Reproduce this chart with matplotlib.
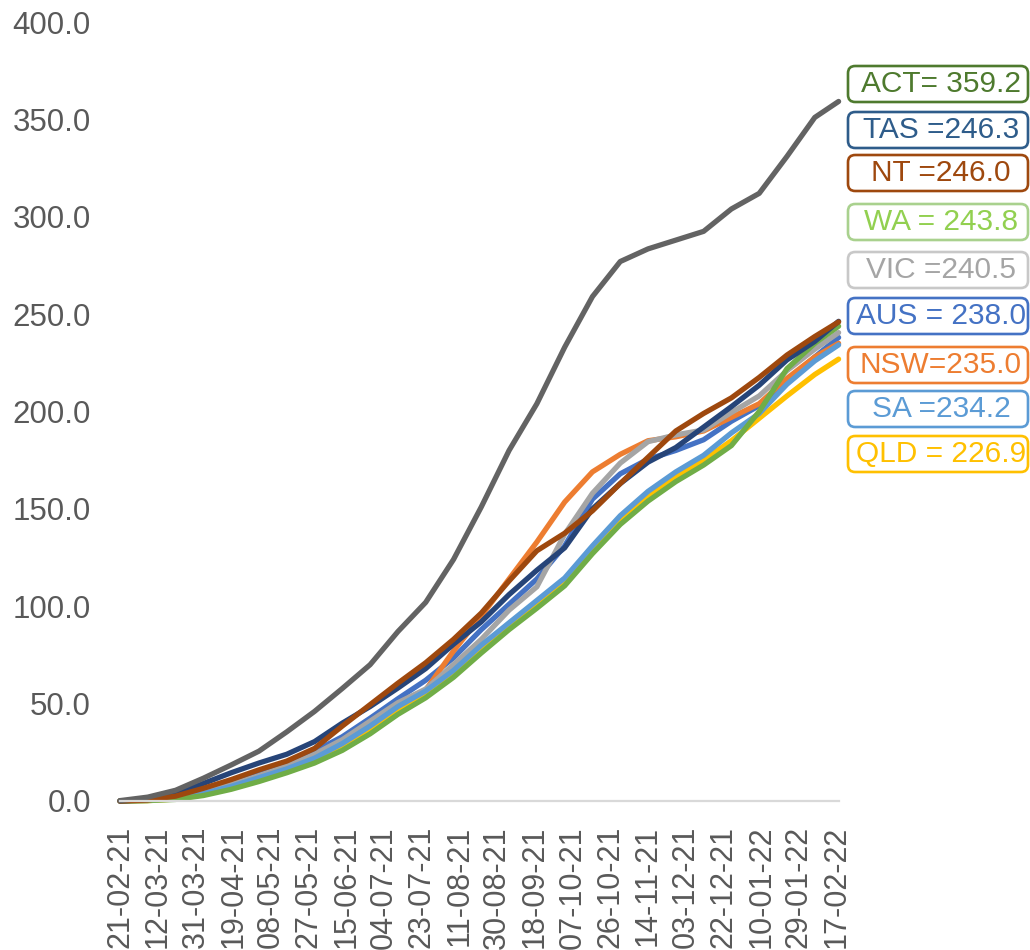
import matplotlib
matplotlib.use("Agg")
import matplotlib.pyplot as plt
from matplotlib.patches import FancyBboxPatch
import pandas as pd

plt.rcParams['font.family'] = ['Liberation Sans', 'DejaVu Sans']

# fortnightly readings (doses per 100 people)
dates = ['2021-02-21', '2021-03-07', '2021-03-21', '2021-04-04', '2021-04-18',
         '2021-05-02', '2021-05-16', '2021-05-30', '2021-06-13', '2021-06-27',
         '2021-07-11', '2021-07-25', '2021-08-08', '2021-08-22', '2021-09-05',
         '2021-09-19', '2021-10-03', '2021-10-17', '2021-10-31', '2021-11-14',
         '2021-11-28', '2021-12-12', '2021-12-26', '2022-01-09', '2022-01-23',
         '2022-02-06', '2022-02-18']

aus = [0, 0.6, 2.5, 5.5, 10, 14.5, 19.5, 25.5, 33, 42.5, 52.5, 62, 73.5, 88,
       101, 114, 131, 155, 168, 175.5, 180, 185.5, 195, 203, 216, 228, 238.0]
nsw = [0, 0.3, 1.5, 3.8, 7.5, 12, 16.5, 22, 28.5, 36.5, 46, 57, 77, 95,
       114, 133, 153.5, 169, 178, 185, 187, 190, 197, 204, 217, 228, 235.0]
vic = [0, 0.5, 1.8, 4.3, 8.5, 13, 18, 24, 31.5, 41, 50.5, 57.5, 70, 83,
       98, 110, 137, 158, 173.5, 184.5, 188, 190.5, 199.5, 208, 221, 232, 240.5]
qld = [0, 0.2, 1, 3.2, 6.5, 11, 15.5, 21, 27.5, 36, 46, 54.5, 65, 78,
       89.5, 101, 113, 129, 144, 156.5, 166.5, 175, 185, 196.5, 208, 219, 226.9]
sa = [0, 0.3, 1.5, 3.8, 7.5, 12, 16.5, 22, 29.5, 38.5, 48.5, 56.5, 67, 80,
      91.5, 103, 114.5, 131, 146.5, 159, 169, 177.5, 189, 199, 214, 226, 234.2]
wa = [0, 0.2, 0.8, 2.8, 6, 10, 14.5, 19.5, 26, 34.5, 44.5, 53, 63.5, 76,
      88, 99, 110.5, 127, 142, 154, 164, 172.5, 182.5, 200, 222, 235, 243.8]
tas = [0, 0.8, 3.5, 9, 14.5, 19.5, 24, 30.5, 40, 48.5, 58, 68, 80.5, 92,
       106, 118.5, 130, 150, 163, 174, 181.5, 192, 202.5, 213.5, 226.5, 236, 246.3]
nt = [0, 0.5, 2.5, 6.5, 11, 16, 20.5, 27, 38.5, 49.5, 60.5, 71, 83, 96.5,
      113, 128.5, 137.5, 149, 163, 176.5, 190, 199, 207, 217.5, 229, 238.5, 246.0]
act = [0.2, 2, 5.5, 11.7, 18.5, 25.6, 35.5, 46, 57.8, 70, 87, 102, 124, 151,
       180, 204, 233, 259, 277, 283.5, 288, 292.5, 304, 312, 331, 351, 359.2]

series = ['AUS', 'NSW', 'VIC', 'QLD', 'SA', 'WA', 'TAS', 'NT', 'ACT']
values = [aus, nsw, vic, qld, sa, wa, tas, nt, act]
line_colors = ['#4472C4', '#ED7D31', '#A5A5A5', '#FFC000', '#5B9BD5',
               '#70AD47', '#264478', '#9E480E', '#636363']

# right-hand value boxes, top to bottom
box_text = ['ACT= 359.2', 'TAS =246.3', 'NT =246.0', 'WA = 243.8', 'VIC =240.5',
            'AUS = 238.0', 'NSW=235.0', 'SA =234.2', 'QLD = 226.9']
box_text_col = ['#4E7A2E', '#2E5C8A', '#9E480E', '#92D050', '#A5A5A5',
                '#4472C4', '#ED7D31', '#5B9BD5', '#FFC000']
box_edge_col = ['#4E7A2E', '#2E5C8A', '#9E480E', '#A9D18E', '#C8C8C8',
                '#4472C4', '#ED7D31', '#5B9BD5', '#FFC000']
box_centers = [84, 130, 173, 222, 270, 316, 365, 409, 454]  # pixel rows

W, H = 1030, 950
fig = plt.figure(figsize=(W / 100, H / 100), dpi=100)
ax = fig.add_axes([120 / W, 1 - 801 / H, (838.6 - 120) / W, (801 - 22) / H])

x = pd.to_datetime(dates)
for name, vals, col in zip(series, values, line_colors):
    ax.plot(x, vals, color=col, lw=3.8, solid_joinstyle='round',
            solid_capstyle='round', label=name, clip_on=False)

ax.set_ylim(0, 400)
ax.set_yticks(range(0, 401, 50))
ax.set_yticklabels([f'{v:.1f}' for v in range(0, 401, 50)])
ax.set_xlim(pd.Timestamp('2021-02-21'), pd.Timestamp('2022-02-18'))
ticks = pd.date_range('2021-02-21', '2022-02-17', freq='19D')
ax.set_xticks(ticks)
ax.set_xticklabels([t.strftime('%d-%m-%y') for t in ticks], rotation=90,
                   va='top', ha='center')

for s in ['top', 'right', 'left']:
    ax.spines[s].set_visible(False)
ax.spines['bottom'].set_color('#D9D9D9')
ax.spines['bottom'].set_linewidth(1.6)
ax.tick_params(axis='both', length=0, colors='#595959')
ax.tick_params(axis='y', pad=21, labelsize=22.5)
ax.tick_params(axis='x', pad=18, labelsize=22)

for txt, tc, ec, cy in zip(box_text, box_text_col, box_edge_col, box_centers):
    x0, x1 = 848 / W, 1028 / W
    hgt = 36 / H
    y0 = 1 - cy / H - hgt / 2
    box = FancyBboxPatch((x0, y0), x1 - x0, hgt, transform=fig.transFigure,
                         boxstyle='round,pad=0,rounding_size=0.007',
                         facecolor='white', edgecolor=ec, lw=1.9,
                         mutation_aspect=W / H)
    fig.patches.append(box)
    fig.text(941 / W, 1 - cy / H, txt, color=tc, fontsize=21.5,
             ha='center', va='center')

fig.savefig('out.png', dpi=100)
